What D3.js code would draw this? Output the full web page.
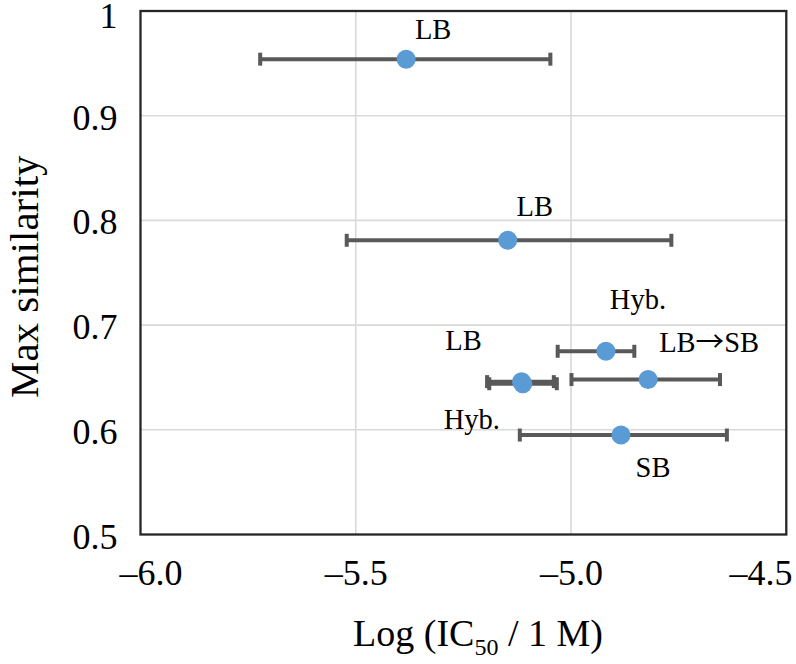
<!DOCTYPE html>
<html>
<head>
<meta charset="utf-8">
<script src="https://cdn.jsdelivr.net/npm/d3@7"></script>
<style>
  body { margin: 0; background: #fff; }
  svg text { font-family: "Liberation Serif", "Times New Roman", Times, serif; fill: #000; }
  svg text tspan.arrow { font-family: "Noto Sans CJK JP", "Noto Sans CJK SC", "DejaVu Sans", sans-serif; }
</style>
</head>
<body>
<svg id="chart" width="796" height="664"></svg>
<script>
// ---- data ----
const labels   = ["LB", "LB", "Hyb.", "LB", "Hyb.", "LB→SB", "SB"];
const xValues  = [-5.383, -5.147, -4.919, -5.115, -5.112, -4.821, -4.884];
const yValues  = [0.954, 0.781, 0.675, 0.646, 0.644, 0.648, 0.595];
const xLow     = [-5.722, -5.521, -5.031, -5.195, -5.190, -4.999, -5.119];
const xHigh    = [-5.048, -4.767, -4.853, -5.040, -5.033, -4.654, -4.638];
// label offsets (dx, dy) in pixels relative to point
const labelDx  = [27, 27, 32, -58, -51, 61, 32];
const labelDy  = [-20, -24, -42, -32, 45, -28, 42];
const xTicks   = [-6.0, -5.5, -5.0, -4.5];
const yTicks   = [0.5, 0.6, 0.7, 0.8, 0.9, 1.0];

const svg = d3.select("#chart");
const pL = 140.5, pR = 786.3, pT = 11, pB = 534.5;

const x = d3.scaleLinear().domain([-6.0, -4.5]).range([pL, pR]);
const y = d3.scaleLinear().domain([0.5, 1.0]).range([pB, pT]);

// gridlines
svg.append("g").selectAll("line").data(xTicks.slice(1, -1)).join("line")
  .attr("x1", d => x(d)).attr("x2", d => x(d))
  .attr("y1", pT).attr("y2", pB)
  .attr("stroke", "#d9d9d9").attr("stroke-width", 1.6);
svg.append("g").selectAll("line").data(yTicks.slice(1, -1)).join("line")
  .attr("y1", d => y(d)).attr("y2", d => y(d))
  .attr("x1", pL).attr("x2", pR)
  .attr("stroke", "#d9d9d9").attr("stroke-width", 1.6);

// plot border
svg.append("rect").attr("x", pL).attr("y", pT)
  .attr("width", pR - pL).attr("height", pB - pT)
  .attr("fill", "none").attr("stroke", "#262626").attr("stroke-width", 2.3);

// axes (labels only, via d3 axis)
const xAxis = svg.append("g").attr("transform", `translate(0,${pB})`)
  .call(d3.axisBottom(x).tickValues(xTicks).tickSize(0)
    .tickFormat(d => d3.format(".1f")(d).replace("-", "\u2013").replace("\u2212", "\u2013")));
xAxis.select(".domain").remove();
xAxis.selectAll("text").attr("font-size", 36).attr("dy", 0).attr("y", 50)
  .attr("text-anchor", (d, i) => i === xTicks.length - 1 ? "end" : "middle")
  .attr("x", (d, i) => i === 0 ? 10 : (i === xTicks.length - 1 ? 796 - pR - 4 : 0));

const yAxis = svg.append("g").attr("transform", `translate(${pL},0)`)
  .call(d3.axisLeft(y).tickValues(yTicks).tickSize(0)
    .tickFormat(d => d === 1 ? "1" : d3.format(".1f")(d)));
yAxis.select(".domain").remove();
yAxis.selectAll("text").attr("font-size", 36).attr("x", -23)
  .attr("dy", d => d === 1 ? 16 : 13.5);

// axis titles
svg.append("text").attr("x", 478).attr("y", 646)
  .attr("text-anchor", "middle").attr("font-size", 38)
  .html('Log (IC<tspan font-size="24" dy="9">50</tspan><tspan dy="-9"> / 1 M)</tspan>');
svg.append("text")
  .attr("transform", `translate(38,${(pT + pB) / 2 + 4}) rotate(-90)`)
  .attr("text-anchor", "middle").attr("font-size", 41)
  .text("Max similarity");

// error bars
const idx = d3.range(labels.length);
const eb = svg.append("g").attr("stroke", "#595959").attr("stroke-width", 4);
eb.append("g").selectAll("line").data(idx).join("line")
  .attr("x1", i => x(xLow[i])).attr("x2", i => x(xHigh[i]))
  .attr("y1", i => y(yValues[i])).attr("y2", i => y(yValues[i]));
eb.append("g").selectAll("line").data(idx).join("line")
  .attr("x1", i => x(xLow[i])).attr("x2", i => x(xLow[i]))
  .attr("y1", i => y(yValues[i]) - 6.5).attr("y2", i => y(yValues[i]) + 6.5);
eb.append("g").selectAll("line").data(idx).join("line")
  .attr("x1", i => x(xHigh[i])).attr("x2", i => x(xHigh[i]))
  .attr("y1", i => y(yValues[i]) - 6.5).attr("y2", i => y(yValues[i]) + 6.5);

// points
svg.append("g").selectAll("circle").data(idx).join("circle")
  .attr("cx", i => x(xValues[i])).attr("cy", i => y(yValues[i]))
  .attr("r", 9.5).attr("fill", "#5B9BD5");

// data labels (arrow glyph drawn in a font with a full-width arrow)
const lab = svg.append("g").selectAll("text").data(idx).join("text")
  .attr("x", i => x(xValues[i]) + labelDx[i])
  .attr("y", i => y(yValues[i]) + labelDy[i])
  .attr("text-anchor", "middle").attr("font-size", 28.5);
lab.each(function(i) {
  const t = d3.select(this);
  const parts = labels[i].split("→");
  parts.forEach((p, k) => {
    if (k > 0) t.append("tspan").attr("class", "arrow").text("→");
    t.append("tspan").text(p);
  });
});
</script>
</body>
</html>
